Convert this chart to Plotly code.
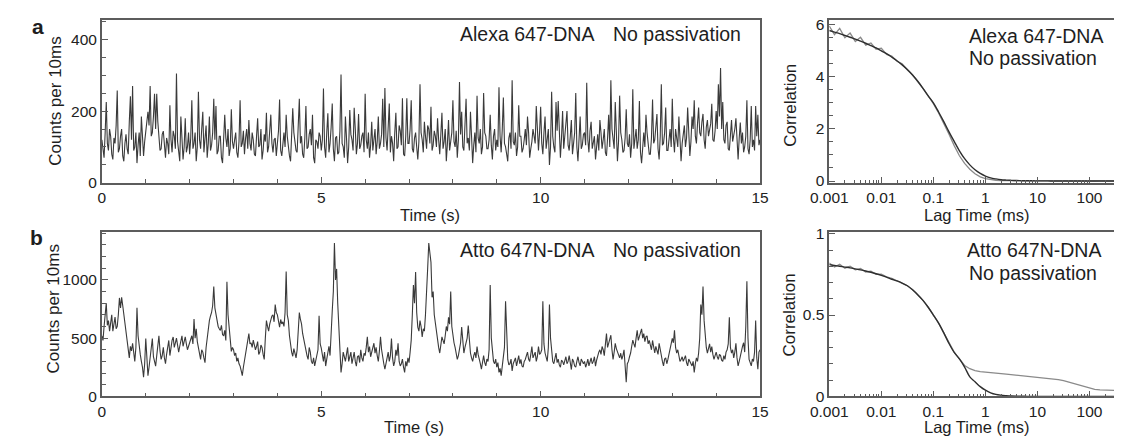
import numpy as np
import plotly.graph_objects as go

W, H = 1123, 443
FONT = "Liberation Sans, Arial, Helvetica, sans-serif"

# ---- photon count traces (counts per 10 ms bin, sampled every 25 ms) ----
time_step_s = 0.025
counts_alexa = [
    120, 95, 70, 140, 225, 110, 90, 150, 130, 80, 65, 125, 110, 160, 257, 85, 95, 130, 150, 75,
    60, 110, 135, 95, 80, 170, 241, 120, 270, 90, 100, 140, 55, 105, 140, 75, 185, 130, 75, 115,
    150, 175, 198, 160, 270, 130, 140, 185, 248, 150, 248, 170, 120, 90, 95, 135, 144, 100, 70, 125,
    110, 80, 216, 120, 85, 145, 130, 95, 305, 115, 90, 60, 185, 120, 65, 100, 180, 85, 100, 140,
    80, 125, 230, 95, 110, 140, 60, 100, 254, 120, 95, 150, 198, 85, 120, 160, 70, 110, 185, 90,
    105, 140, 234, 120, 214, 80, 90, 130, 130, 70, 55, 110, 190, 125, 100, 150, 75, 95, 205, 115,
    95, 120, 140, 85, 70, 115, 230, 100, 110, 145, 80, 125, 150, 95, 175, 110, 90, 140, 120, 80,
    75, 130, 180, 100, 105, 150, 65, 90, 135, 115, 195, 85, 100, 145, 190, 110, 85, 120, 125, 75,
    110, 145, 232, 90, 75, 120, 140, 100, 190, 130, 95, 75, 60, 115, 208, 140, 120, 90, 85, 150,
    234, 110, 130, 80, 70, 125, 214, 95, 100, 135, 150, 105, 190, 70, 55, 120, 115, 95, 140, 130,
    90, 120, 263, 100, 70, 140, 194, 85, 110, 155, 221, 95, 60, 125, 130, 80, 85, 145, 302, 110,
    100, 70, 185, 125, 55, 100, 203, 135, 120, 90, 209, 150, 80, 110, 192, 95, 105, 130, 140, 85,
    248, 120, 95, 140, 70, 105, 170, 90, 120, 150, 80, 115, 185, 95, 110, 135, 234, 100, 264, 125,
    90, 150, 221, 85, 130, 110, 60, 140, 195, 95, 100, 160, 145, 105, 236, 80, 75, 130, 236, 110,
    110, 150, 230, 95, 85, 125, 140, 100, 65, 115, 275, 140, 120, 85, 170, 130, 95, 160, 150, 110,
    212, 90, 105, 145, 130, 100, 180, 120, 80, 135, 195, 95, 115, 150, 60, 110, 175, 90, 125, 140,
    230, 115, 100, 145, 70, 120, 281, 135, 198, 100, 90, 155, 234, 110, 125, 90, 198, 130, 55, 105,
    140, 85, 243, 125, 110, 150, 80, 100, 250, 140, 130, 95, 95, 120, 190, 105, 65, 130, 150, 90,
    120, 100, 266, 130, 85, 150, 238, 110, 100, 80, 60, 125, 140, 95, 286, 115, 105, 140, 75, 100,
    216, 130, 130, 85, 95, 120, 150, 105, 185, 140, 70, 95, 115, 150, 135, 110, 214, 125, 90, 140,
    212, 110, 80, 140, 185, 95, 120, 150, 50, 100, 254, 130, 100, 85, 225, 145, 228, 110, 70, 125,
    200, 95, 130, 155, 200, 105, 90, 130, 175, 80, 110, 140, 250, 100, 60, 120, 185, 95, 105, 135,
    140, 105, 279, 120, 85, 145, 170, 95, 110, 130, 65, 110, 135, 90, 175, 140, 95, 120, 150, 85,
    75, 125, 190, 100, 286, 150, 110, 95, 225, 130, 60, 115, 243, 140, 120, 85, 90, 125, 205, 110,
    100, 135, 70, 110, 261, 95, 130, 150, 95, 120, 228, 85, 55, 115, 140, 100, 190, 140, 105, 80,
    80, 125, 232, 110, 120, 150, 192, 95, 65, 130, 275, 105, 110, 140, 210, 90, 90, 120, 150, 100,
    234, 125, 85, 150, 120, 100, 185, 135, 60, 110, 140, 160, 100, 125, 210, 140, 75, 115, 185, 150,
    230, 130, 110, 165, 210, 140, 130, 170, 192, 120, 95, 155, 175, 130, 145, 165, 220, 120, 115, 145,
    200, 150, 275, 185, 320, 150, 225, 120, 110, 160, 170, 95, 90, 140, 175, 115, 130, 150, 180, 100,
    65, 125, 168, 110, 140, 85, 100, 130, 230, 95, 80, 120, 214, 100, 120, 90, 214, 130, 190, 105,
    120,
]
counts_atto = [
    520, 480, 600, 720, 800, 610, 650, 560, 620, 700, 560, 630, 680, 580, 600, 700, 845, 760, 850, 780,
    700, 620, 560, 450, 372, 330, 430, 390, 456, 360, 300, 420, 761, 520, 420, 360, 300, 250, 164, 280,
    497, 290, 178, 250, 320, 400, 497, 340, 300, 260, 350, 430, 520, 390, 317, 350, 420, 330, 280, 360,
    440, 480, 350, 420, 480, 510, 420, 460, 500, 440, 380, 430, 470, 520, 430, 470, 510, 450, 400, 430,
    460, 490, 520, 450, 664, 500, 580, 470, 420, 360, 317, 400, 380, 330, 289, 420, 500, 600, 650, 690,
    720, 780, 942, 760, 700, 640, 600, 580, 566, 610, 530, 520, 566, 480, 983, 700, 600, 450, 386, 420,
    400, 350, 372, 300, 330, 280, 260, 220, 178, 250, 300, 380, 430, 480, 539, 450, 460, 420, 483, 440,
    400, 430, 470, 360, 380, 440, 420, 360, 317, 500, 650, 600, 560, 620, 664, 690, 700, 640, 789, 720,
    700, 650, 594, 660, 622, 640, 600, 720, 1072, 700, 650, 520, 420, 380, 344, 410, 372, 330, 400, 560,
    720, 660, 622, 540, 483, 440, 400, 350, 317, 420, 380, 300, 280, 330, 261, 300, 350, 400, 692, 450,
    414, 350, 300, 380, 260, 320, 400, 430, 350, 600, 733, 900, 1317, 1000, 1094, 800, 567, 330, 206, 280,
    380, 340, 300, 360, 420, 300, 330, 380, 280, 330, 380, 300, 260, 340, 350, 290, 400, 330, 300, 370,
    350, 420, 511, 380, 428, 340, 380, 430, 456, 370, 420, 350, 300, 390, 511, 400, 317, 280, 233, 300,
    330, 380, 300, 350, 497, 330, 261, 300, 400, 350, 456, 300, 261, 280, 320, 250, 206, 300, 260, 330,
    289, 380, 483, 700, 956, 800, 1067, 720, 594, 560, 650, 600, 511, 580, 560, 700, 983, 1100, 1317, 1200,
    1150, 850, 900, 700, 622, 560, 480, 420, 372, 450, 511, 480, 450, 520, 600, 560, 678, 620, 900, 600,
    511, 460, 420, 360, 317, 350, 400, 460, 594, 500, 372, 420, 450, 500, 608, 460, 372, 330, 300, 350,
    380, 330, 428, 360, 300, 280, 233, 300, 350, 290, 261, 320, 300, 400, 956, 500, 372, 300, 280, 320,
    250, 290, 206, 240, 178, 260, 350, 420, 817, 450, 317, 270, 280, 320, 219, 280, 300, 330, 261, 300,
    350, 280, 317, 260, 250, 300, 317, 350, 380, 320, 300, 360, 428, 330, 350, 380, 300, 340, 428, 360,
    372, 400, 817, 450, 372, 330, 300, 420, 789, 500, 350, 300, 280, 330, 372, 290, 320, 270, 250, 310,
    300, 270, 317, 340, 280, 300, 350, 280, 230, 320, 300, 260, 250, 300, 340, 290, 261, 320, 300, 280,
    300, 250, 280, 320, 261, 300, 330, 280, 300, 340, 260, 310, 350, 380, 400, 360, 428, 400, 350, 450,
    539, 420, 450, 480, 525, 400, 317, 380, 456, 410, 380, 340, 330, 370, 317, 350, 400, 260, 122, 280,
    300, 340, 372, 430, 483, 450, 420, 500, 567, 480, 520, 560, 580, 500, 539, 470, 511, 520, 450, 480,
    428, 400, 480, 420, 372, 430, 400, 360, 456, 390, 350, 300, 261, 320, 330, 280, 317, 360, 414, 440,
    497, 460, 567, 420, 372, 400, 350, 300, 317, 340, 300, 330, 350, 290, 261, 320, 300, 280, 261, 300,
    206, 280, 330, 300, 372, 500, 789, 700, 942, 650, 511, 420, 372, 410, 450, 380, 428, 360, 317, 350,
    380, 340, 317, 360, 350, 310, 300, 350, 317, 380, 400, 450, 678, 420, 372, 400, 330, 380, 456, 330,
    261, 300, 350, 400, 428, 460, 380, 600, 989, 500, 317, 290, 261, 320, 300, 380, 650, 330, 233, 380,
    400,
]

# ---- correlation curves on a 0.1-decade lag grid, 1 us .. ~300 ms ----
lag_exponent = np.round(np.arange(-3.0, 2.55, 0.1), 2)
lag_ms = 10.0 ** lag_exponent

corr_alexa_data = [
    5.95, 5.62, 5.86, 5.50, 5.68, 5.36, 5.52, 5.22, 5.30, 5.06,
    5.10, 4.86, 4.80, 4.60, 4.50, 4.26, 4.07, 3.83, 3.56, 3.27,
    2.97, 2.61, 2.22, 1.80, 1.36, 0.97, 0.68, 0.45, 0.28, 0.16,
    0.09, 0.05, 0.03, 0.02, 0.015, 0.01, 0.012, 0.006, 0.01, 0.004,
    0.008, 0.003, 0.006, 0.002, 0.005, 0.0, 0.004, 0.001, 0.003, -0.002,
    0.003, 0.0, 0.002, -0.003, 0.004, 0.0,
]
corr_alexa_fit = [
    5.78, 5.72, 5.66, 5.59, 5.52, 5.45, 5.37, 5.29, 5.20, 5.11,
    5.00, 4.89, 4.76, 4.62, 4.46, 4.28, 4.07, 3.83, 3.56, 3.27,
    3.00, 2.65, 2.28, 1.89, 1.52, 1.16, 0.86, 0.62, 0.43, 0.29,
    0.19, 0.12, 0.08, 0.05, 0.035, 0.025, 0.018, 0.013, 0.01, 0.008,
    0.006, 0.005, 0.004, 0.003, 0.003, 0.002, 0.002, 0.002, 0.001, 0.001,
    0.001, 0.001, 0.001, 0.001, 0.001, 0.001,
]
corr_atto_data = [
    0.82, 0.795, 0.812, 0.788, 0.80, 0.778, 0.786, 0.765, 0.77, 0.75,
    0.752, 0.735, 0.725, 0.71, 0.697, 0.68, 0.655, 0.625, 0.59, 0.548,
    0.50, 0.45, 0.39, 0.327, 0.272, 0.23, 0.19, 0.17, 0.158, 0.152,
    0.148, 0.145, 0.142, 0.14, 0.137, 0.134, 0.131, 0.128, 0.125, 0.122,
    0.119, 0.116, 0.112, 0.108, 0.103, 0.097, 0.088, 0.078, 0.067, 0.057,
    0.049, 0.043, 0.04, 0.038, 0.036, 0.037,
]
corr_atto_fit = [
    0.81, 0.805, 0.80, 0.795, 0.79, 0.784, 0.778, 0.771, 0.763, 0.754,
    0.744, 0.733, 0.72, 0.71, 0.697, 0.68, 0.655, 0.625, 0.59, 0.548,
    0.50, 0.45, 0.39, 0.325, 0.27, 0.23, 0.18, 0.12, 0.09, 0.06,
    0.038, 0.022, 0.012, 0.007, 0.004, 0.002, 0.001, 0.001, 0.0, 0.0,
    0.0, 0.0, 0.0, 0.0, 0.0, 0.0, 0.0, 0.0, 0.0, 0.0,
    0.0, 0.0, 0.0, 0.0, 0.0, 0.0,
]

dye_labels = ["Alexa 647-DNA", "Atto 647N-DNA"]
condition_label = "No passivation"

time_alexa = np.arange(len(counts_alexa)) * time_step_s
time_atto = np.arange(len(counts_atto)) * time_step_s

TRACE_COLOR = "#3a3a3a"
DATA_COLOR = "#8a8a8a"
FIT_COLOR = "#2e2e2e"
AXIS_COLOR = "#5c5c5c"


def px_x(x):
    return x / W


def px_y(y):
    return 1 - y / H


fig = go.Figure()

fig.add_trace(go.Scatter(x=time_alexa, y=counts_alexa, mode="lines",
                         line=dict(color=TRACE_COLOR, width=1.1), xaxis="x", yaxis="y"))
fig.add_trace(go.Scatter(x=lag_ms, y=corr_alexa_data, mode="lines",
                         line=dict(color=DATA_COLOR, width=1.3), xaxis="x2", yaxis="y2"))
fig.add_trace(go.Scatter(x=lag_ms, y=corr_alexa_fit, mode="lines", line_shape="spline",
                         line=dict(color=FIT_COLOR, width=1.4), xaxis="x2", yaxis="y2"))
fig.add_trace(go.Scatter(x=time_atto, y=counts_atto, mode="lines",
                         line=dict(color=TRACE_COLOR, width=1.1), xaxis="x3", yaxis="y3"))
fig.add_trace(go.Scatter(x=lag_ms, y=corr_atto_data, mode="lines",
                         line=dict(color=DATA_COLOR, width=1.3), xaxis="x4", yaxis="y4"))
fig.add_trace(go.Scatter(x=lag_ms, y=corr_atto_fit, mode="lines", line_shape="spline",
                         line=dict(color=FIT_COLOR, width=1.4), xaxis="x4", yaxis="y4"))

tick_font = dict(family=FONT, size=15.5, color="#222222")
base_axis = dict(showline=True, linecolor=AXIS_COLOR, linewidth=1.6,
                 ticks="inside", tickcolor=AXIS_COLOR, ticklen=6, tickwidth=1.2,
                 showgrid=False, zeroline=False, tickfont=tick_font)

trace_dom = [px_x(85), px_x(760)]
corr_dom = [px_x(831), 1.0]
row_a = [px_y(182), px_y(13)]
row_b = [px_y(403), px_y(233)]

time_axis = dict(base_axis, range=[0, 15], tickvals=[0, 5, 10, 15], mirror=True,
                 minor=dict(dtick=1, ticks="inside", ticklen=4, tickcolor=AXIS_COLOR))
log_minor = [m * 10.0 ** d for d in range(-3, 3) for m in range(2, 10)]
lag_axis = dict(base_axis, type="log", range=[-3, 2.47], mirror=True,
                tickvals=[0.001, 0.01, 0.1, 1, 10, 100],
                ticktext=["0.001", "0.01", "0.1", "1", "10", "100"],
                minor=dict(tickmode="array", tickvals=log_minor, ticks="inside",
                           ticklen=3, tickcolor=AXIS_COLOR))

fig.update_layout(
    width=W, height=H, margin=dict(l=0, r=0, t=0, b=0),
    paper_bgcolor="white", plot_bgcolor="white", showlegend=False,
    font=dict(family=FONT, color="#222222"),
    xaxis=dict(time_axis, domain=trace_dom, anchor="y"),
    yaxis=dict(base_axis, domain=row_a, anchor="x", range=[0, 455], mirror=True,
               tickvals=[0, 200, 400],
               minor=dict(dtick=50, ticks="inside", ticklen=4, tickcolor=AXIS_COLOR)),
    xaxis2=dict(lag_axis, domain=corr_dom, anchor="y2"),
    yaxis2=dict(base_axis, domain=row_a, anchor="x2", range=[-0.07, 6.2],
                tickvals=[0, 2, 4, 6],
                minor=dict(dtick=0.5, ticks="inside", ticklen=4, tickcolor=AXIS_COLOR)),
    xaxis3=dict(time_axis, domain=trace_dom, anchor="y3"),
    yaxis3=dict(base_axis, domain=row_b, anchor="x3", range=[0, 1410], mirror=True,
                tickvals=[0, 500, 1000],
                minor=dict(dtick=100, ticks="inside", ticklen=4, tickcolor=AXIS_COLOR)),
    xaxis4=dict(lag_axis, domain=corr_dom, anchor="y4"),
    yaxis4=dict(base_axis, domain=row_b, anchor="x4", range=[0, 1.01],
                tickvals=[0, 0.5, 1], ticktext=["0", "0.5", "1"],
                minor=dict(dtick=0.1, ticks="inside", ticklen=4, tickcolor=AXIS_COLOR)),
)


def note(text, x, y, size, xanchor="center", angle=0, bold=False):
    fig.add_annotation(
        text=f"<b>{text}</b>" if bold else text,
        x=px_x(x), y=px_y(y), xref="paper", yref="paper",
        xanchor=xanchor, yanchor="middle", showarrow=False, textangle=angle,
        font=dict(family=FONT, size=size, color="#1e1e1e"),
    )


# panel letters
note("a", 19, 20, 21, bold=True)
note("b", 18, 239, 21, bold=True)

# axis titles
note("Counts per 10ms", 38, 98, 17, angle=-90)
note("Counts per 10ms", 35, 313, 17, angle=-90)
note("Time (s)", 422, 215, 16.5)
note("Time (s)", 405, 435, 16.5)
note("Correlation", 791, 102, 17, angle=-90)
note("Correlation", 790, 319, 17, angle=-90)
note("Lag Time (ms)", 982, 215, 16.5)
note("Lag Time (ms)", 982, 435, 16.5)

# in-panel labels
note(dye_labels[0], 592, 28, 19.5, xanchor="right")
note(condition_label, 743, 28, 19.5, xanchor="right")
note(dye_labels[1], 592, 252, 19.5, xanchor="right")
note(condition_label, 743, 252, 19.5, xanchor="right")
note(dye_labels[0], 972, 30, 19.5, xanchor="left")
note(condition_label, 972, 53, 19.5, xanchor="left")
note(dye_labels[1], 970, 252, 19.5, xanchor="left")
note(condition_label, 972, 275, 19.5, xanchor="left")

fig.write_html("out.html")
